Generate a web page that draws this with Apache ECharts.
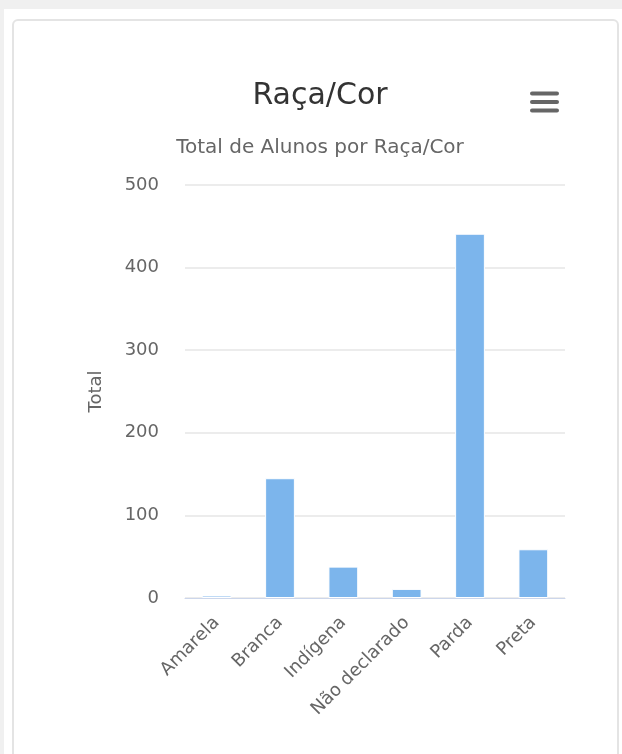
<!DOCTYPE html>
<html>
<head>
<meta charset="utf-8">
<title>Raça/Cor</title>
<script src="https://cdn.jsdelivr.net/npm/echarts@6/dist/echarts.min.js"></script>
<style>
  html, body { margin: 0; padding: 0; width: 622px; height: 754px; overflow: hidden; background: #f0f0f0; }
  #page { position: absolute; left: 4px; top: 9px; right: 0; bottom: 0; background: #ffffff; }
  #card { position: absolute; left: 12px; top: 19px; width: 607px; height: 760px;
          border: 2px solid #e4e4e4; border-radius: 6px; background: #ffffff; box-sizing: border-box; }
  #chart { position: absolute; left: 0; top: 0; width: 622px; height: 754px; }
</style>
</head>
<body>
<div id="page"></div>
<div id="card"></div>
<div id="chart"></div>
<script>
// Students per race/colour category
const categories = ['Amarela', 'Branca', 'Indígena', 'Não declarado', 'Parda', 'Preta'];
const totals = [3, 145, 38, 11, 441, 59];
const yTicks = { min: 0, max: 500, interval: 100 };

const titleText = 'Raça/Cor';
const subtitleText = 'Total de Alunos por Raça/Cor';
const yAxisTitle = 'Total';

const FONT = '"DejaVu Sans", Verdana, sans-serif';

const chart = echarts.init(document.getElementById('chart'), null, { renderer: 'canvas' });

chart.setOption({
  backgroundColor: 'transparent',
  animation: false,
  textStyle: { fontFamily: FONT },
  grid: { left: 185, right: 57, top: 185, bottom: 156, containLabel: false },
  xAxis: {
    type: 'category',
    data: categories,
    axisLine: { show: true, lineStyle: { color: '#ccd6eb', width: 1 } },
    axisTick: { show: false },
    axisLabel: {
      rotate: 45,
      interval: 0,
      margin: 22,
      color: '#666666',
      fontSize: 18,
      fontFamily: FONT
    }
  },
  yAxis: {
    type: 'value',
    min: yTicks.min,
    max: yTicks.max,
    interval: yTicks.interval,
    name: yAxisTitle,
    nameLocation: 'middle',
    nameGap: 80,
    nameRotate: 90,
    nameTextStyle: { color: '#666666', fontSize: 18, fontFamily: FONT },
    axisLine: { show: false },
    axisTick: { show: false },
    axisLabel: { color: '#666666', fontSize: 18, margin: 26, fontFamily: FONT },
    splitLine: { lineStyle: { color: '#e6e6e6', width: 1.5 } }
  },
  series: [{
    type: 'bar',
    data: totals,
    barWidth: '47%',
    itemStyle: { color: '#7cb5ec', borderColor: '#ffffff', borderWidth: 1 }
  }],
  graphic: [
    {
      type: 'text',
      x: 320, y: 96,
      style: {
        text: titleText,
        fill: '#333333',
        font: '30px ' + FONT,
        textAlign: 'center',
        textVerticalAlign: 'middle'
      }
    },
    {
      type: 'text',
      x: 320, y: 148,
      style: {
        text: subtitleText,
        fill: '#666666',
        font: '20px ' + FONT,
        textAlign: 'center',
        textVerticalAlign: 'middle'
      }
    },
    // context-menu button (three bars)
    {
      type: 'group',
      children: [93.5, 102, 110.5].map(function (yy) {
        return {
          type: 'line',
          shape: { x1: 532, y1: yy, x2: 557, y2: yy },
          style: { stroke: '#666666', lineWidth: 4, lineCap: 'round' }
        };
      })
    }
  ]
});
</script>
</body>
</html>
